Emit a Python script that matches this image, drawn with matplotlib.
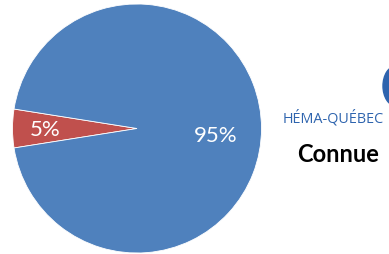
import matplotlib
matplotlib.use("Agg")
import matplotlib.pyplot as plt
from matplotlib.patches import Ellipse
import numpy as np

labels = ['5%', '95%']
values = [5, 95]
colors = ['#C0504D', '#4F81BD']

fig = plt.figure(figsize=(3.89, 2.55), dpi=100)
ax = fig.add_axes([0, 0, 1, 1])

cx, cy, r = 137, 125.5, 124.5
wedges, _ = ax.pie(values, colors=colors, startangle=171, radius=r,
                   center=(cx, cy), frame=True,
                   wedgeprops=dict(edgecolor='white', linewidth=0.6))

# percentage labels inside the wedges
dist = [0.74, 0.63]
dy = [0, -6]
for w, lab, d, o in zip(wedges, labels, dist, dy):
    ang = np.deg2rad((w.theta1 + w.theta2) / 2)
    x = cx + d * r * np.cos(ang)
    y = cy + d * r * np.sin(ang) + o
    ax.text(x, y, lab, color='white', fontsize=16, family='Lato',
            ha='center', va='center')

# logo fragment on the right
ax.add_patch(Ellipse((396, 168), 26, 40, color='#2E64AE'))
ax.text(283, 137, 'HÉMA-QUÉBEC', color='#2E64AE', fontsize=10.4,
        family='Open Sans', ha='left', va='center')
ax.text(338, 100, 'Connue', color='black', fontsize=17, family='Lato',
        fontweight='bold', ha='center', va='center')

ax.set_xlim(0, 389)
ax.set_ylim(0, 255)
ax.set_aspect('auto')
ax.axis('off')

fig.savefig('out.png', dpi=100)
